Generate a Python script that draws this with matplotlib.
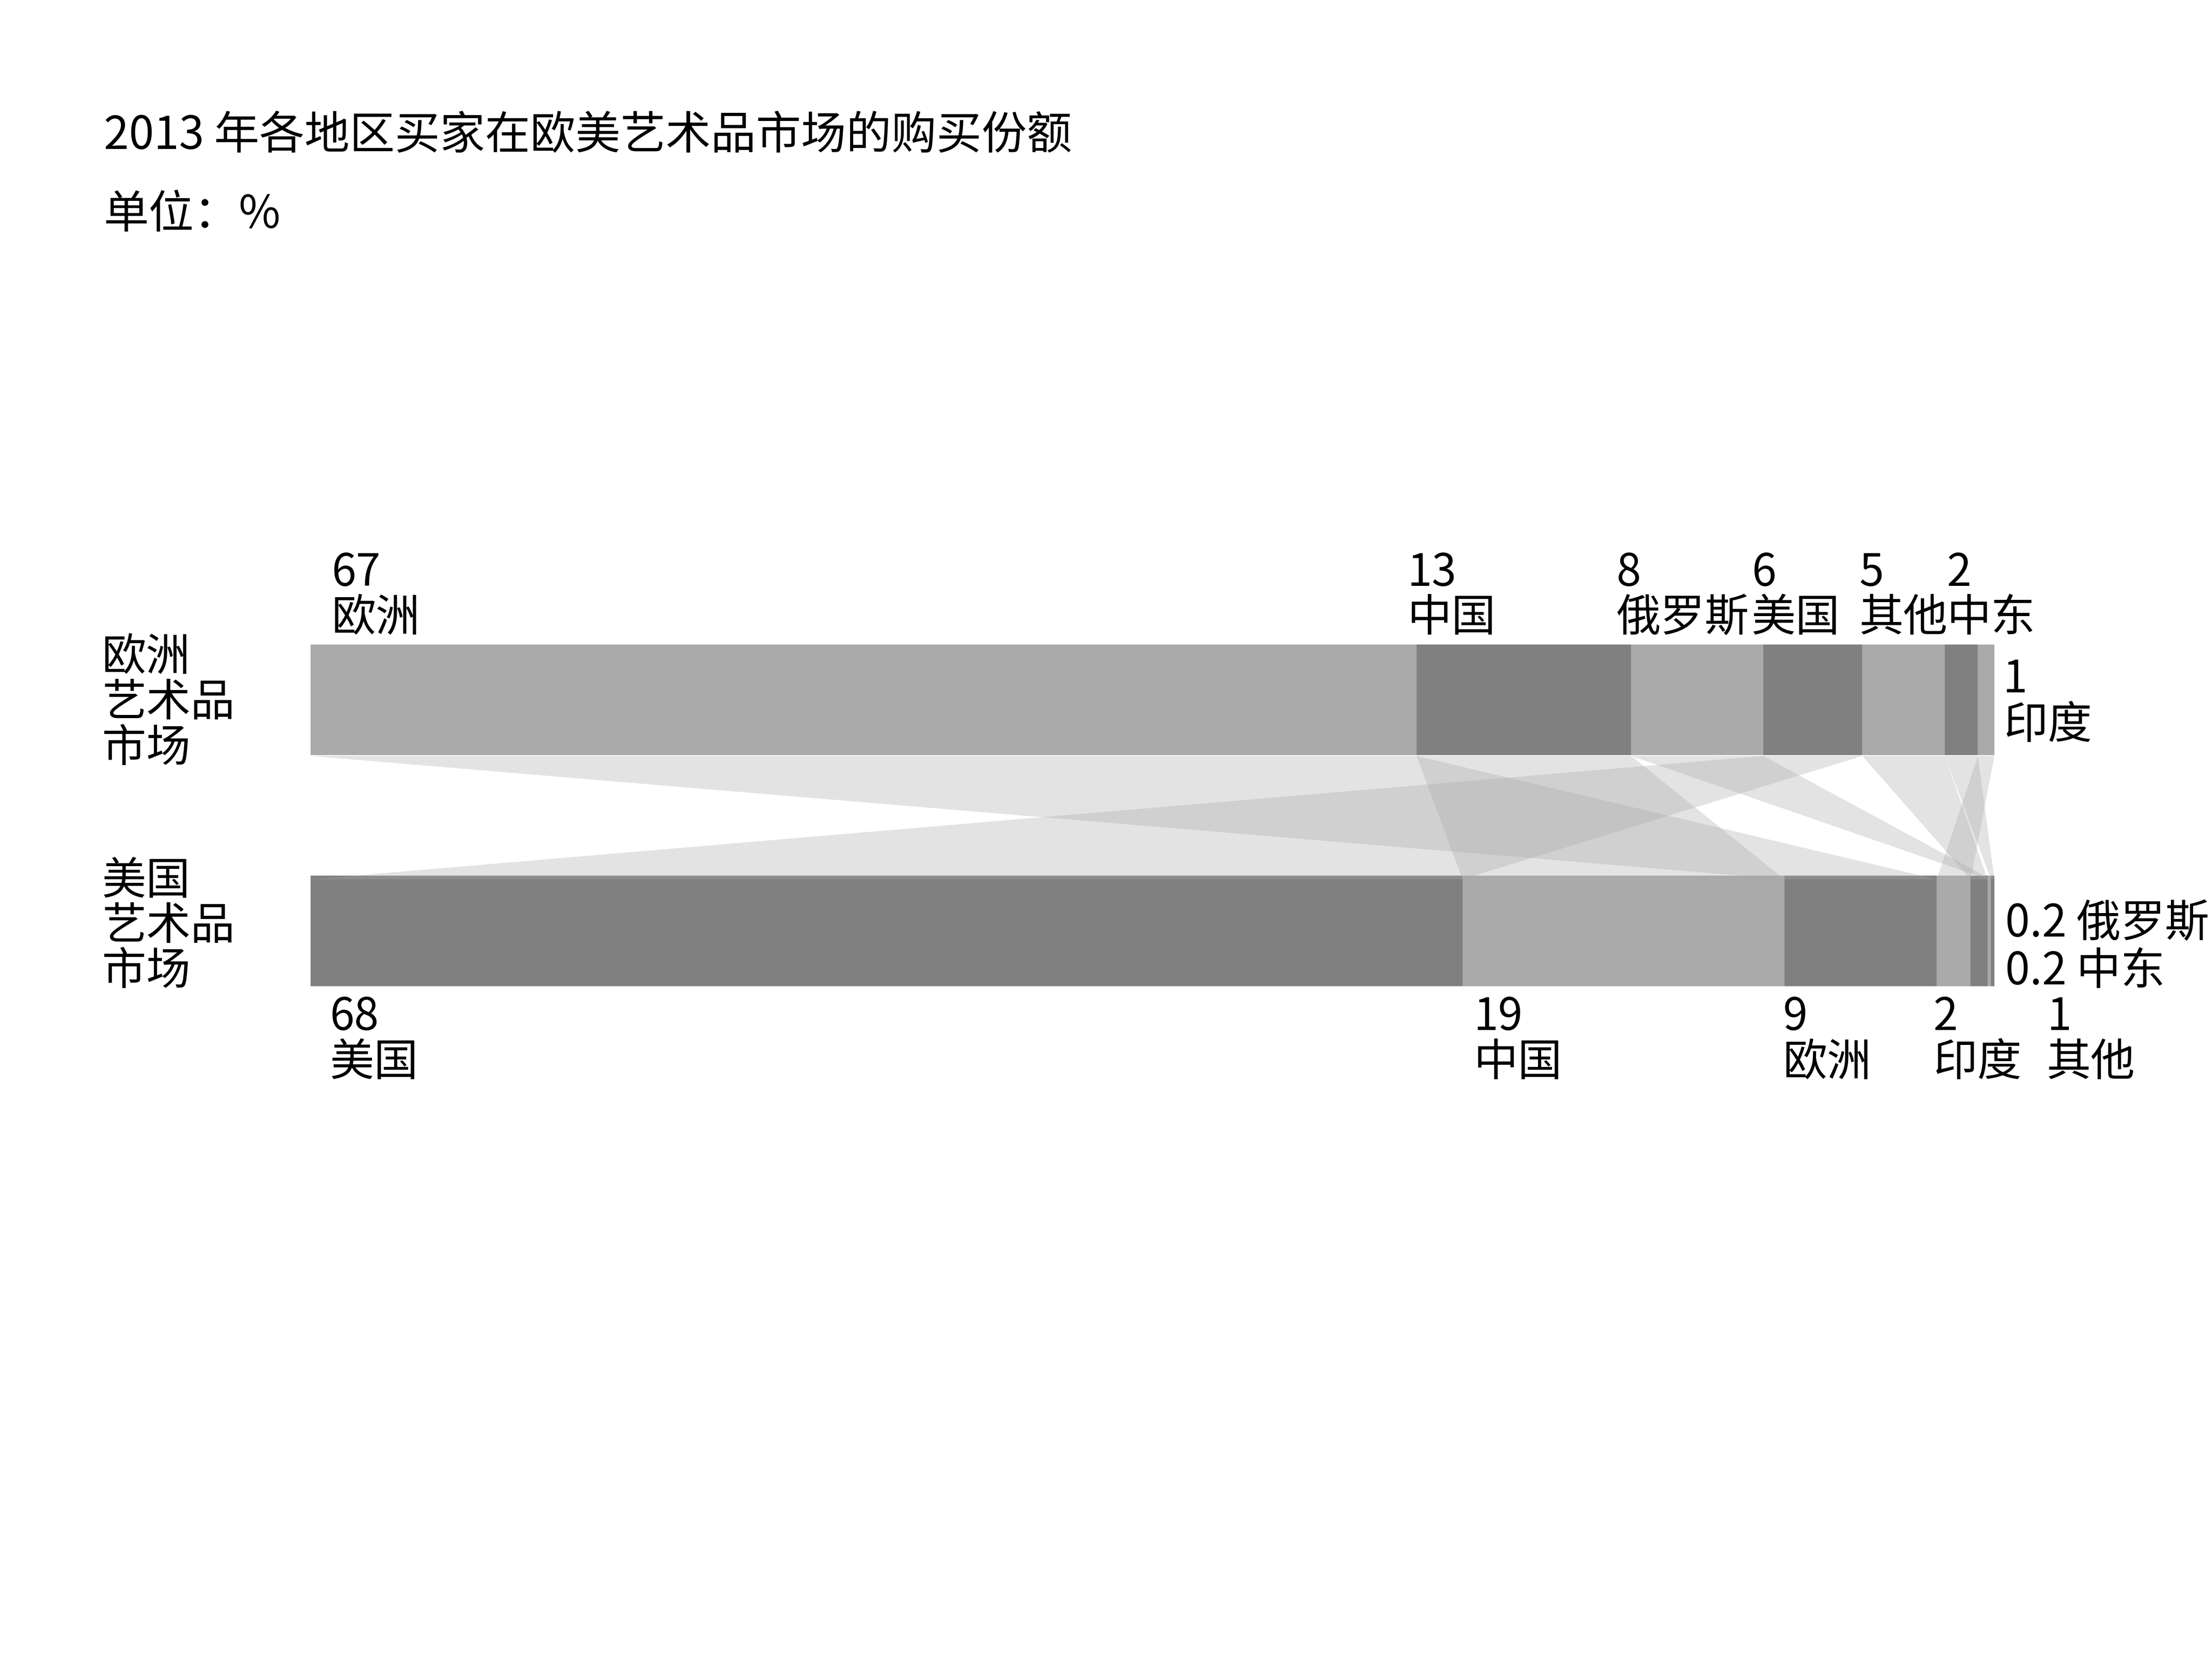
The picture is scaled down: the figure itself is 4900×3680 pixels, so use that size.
import matplotlib
matplotlib.use('Agg')
import matplotlib.pyplot as plt
import numpy as np

plt.rcParams['font.family'] = ['Noto Sans CJK SC', 'DejaVu Sans']
plt.rcParams['font.weight'] = 'medium'

# ---------------- data ----------------
title = '2013 年各地区买家在欧美艺术品市场的购买份额'
subtitle = '单位：%'
market_top_label = ['欧洲', '艺术品', '市场']
market_bottom_label = ['美国', '艺术品', '市场']

top_regions = ['欧洲', '中国', '俄罗斯', '美国', '其他', '中东', '印度']
top_values = [67, 13, 8, 6, 5, 2, 1]
top_value_labels = ['67', '13', '8', '6', '5', '2', '1']

bottom_regions = ['美国', '中国', '欧洲', '印度', '其他', '俄罗斯', '中东']
bottom_values = [68, 19, 9, 2, 1, 0.2, 0.2]
bottom_value_labels = ['68', '19', '9', '2', '1', '0.2', '0.2']

# ---------------- style / layout ----------------
DPI = 72
W, H = 4900, 3680
LIGHT, DARK = '#aaaaaa', '#808080'
RIBBON = '#aaaaaa'
FS = 98
FS_TITLE = 100

top_colors = [LIGHT, DARK] * 4
bottom_colors = [DARK, LIGHT] * 4

# label offsets (pixels == points at dpi 72)
top_label_dx = [47, -21, -33, -26, -7, 4, None]      # None -> right of bar
bottom_label_dx = [43, 25, -3, -8, None, None, None]  # None -> special

fig = plt.figure(figsize=(W / DPI, H / DPI), dpi=DPI)
bar_l, bar_r, bar_t, bar_b = 688, 4418, 1428, 2185
ax = fig.add_axes([bar_l / W, 1 - bar_b / H, (bar_r - bar_l) / W, (bar_b - bar_t) / H])

px_per_unit = 512.5
h = 245 / px_per_unit
ax.set_xlim(0, 100)
ax.set_ylim(-h / 2, 1 + h / 2)
ax.axis('off')

tv = np.array(top_values, dtype=float)
bv = np.array(bottom_values, dtype=float)
tw = tv / tv.sum() * 100
bw = bv / bv.sum() * 100
tl = np.concatenate([[0], np.cumsum(tw)[:-1]])
bl = np.concatenate([[0], np.cumsum(bw)[:-1]])

ax.barh(1, tw, left=tl, height=h, color=top_colors[:len(tw)], linewidth=0, zorder=2)
ax.barh(0, bw, left=bl, height=h, color=bottom_colors[:len(bw)], linewidth=0, zorder=2)

# ribbons
y_top = 1 - h / 2 - 2 / px_per_unit
y_bot = h / 2 - 8 / px_per_unit
for i, r in enumerate(top_regions):
    j = bottom_regions.index(r)
    xs = [tl[i], tl[i] + tw[i], bl[j] + bw[j], bl[j]]
    ys = [y_top, y_top, y_bot, y_bot]
    ax.fill(xs, ys, color=RIBBON, alpha=0.32, linewidth=0, zorder=3)


def put(text, xy, dx, dy, fs=FS):
    ax.annotate(text, xy=xy, xycoords='data', xytext=(dx, dy),
                textcoords='offset points', ha='left', va='baseline',
                fontsize=fs, color='black', annotation_clip=False)


top_edge = 1 + h / 2
bot_edge = -h / 2
bot_top_edge = h / 2

# top labels
for i, (name, val) in enumerate(zip(top_regions, top_value_labels)):
    dx = top_label_dx[i]
    if dx is not None:
        put(val, (tl[i], top_edge), dx, 130)
        put(name, (tl[i], top_edge), dx, 30)
    else:
        put(val, (100, top_edge), 18, -106)
        put(name, (100, top_edge), 20, -208)

# bottom labels
for i, (name, val) in enumerate(zip(bottom_regions, bottom_value_labels)):
    dx = bottom_label_dx[i]
    if dx is not None:
        put(val, (bl[i], bot_edge), dx, -97)
        put(name, (bl[i], bot_edge), dx, -198)
    elif name == '其他':
        put(val, (100, bot_edge), 116, -97)
        put(name, (100, bot_edge), 116, -198)
    elif name == '俄罗斯':
        put(val + ' ' + name, (100, bot_top_edge), 24, -134)
    else:
        put(val + ' ' + name, (100, bot_top_edge), 24, -241)

# market labels on the left
for k, line in enumerate(market_top_label):
    put(line, (0, 1), -462, 66 - 101.5 * k)
for k, line in enumerate(market_bottom_label):
    put(line, (0, 0), -462, 82 - 100 * k)

# title
fig.text(230 / W, 1 - 330 / H, title, fontsize=FS_TITLE, ha='left', va='baseline')
fig.text(230 / W, 1 - 505 / H, subtitle, fontsize=FS_TITLE, ha='left', va='baseline')

fig.savefig('out.png', dpi=DPI, facecolor='white')
